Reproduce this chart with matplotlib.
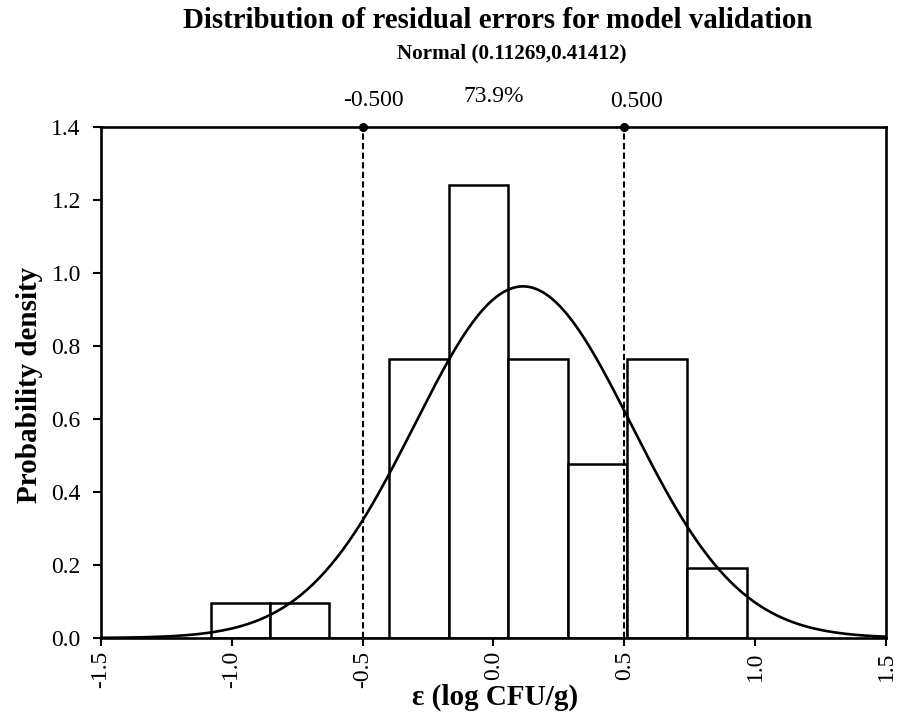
import numpy as np
import matplotlib.pyplot as plt

# histogram of residuals (density scale)
bin_edges = [-1.081, -0.854, -0.627, -0.400, -0.170, 0.056, 0.283, 0.510, 0.738, 0.967]
densities = [0.096, 0.096, 0.0, 0.764, 1.242, 0.764, 0.478, 0.764, 0.191]

# fitted normal
mu, sigma = 0.11269, 0.41412
limits = [-0.5, 0.5]
inside_pct = "73.9%"

xticks = [-1.5, -1.0, -0.5, 0.0, 0.5, 1.0, 1.5]
yticks = [0.0, 0.2, 0.4, 0.6, 0.8, 1.0, 1.2, 1.4]

plt.rcParams['font.family'] = ['Liberation Serif', 'DejaVu Serif']

fig = plt.figure(figsize=(9.04, 7.12), dpi=100)
ax = fig.add_axes([101/904, 1-638/712, (886-101)/904, (638-127)/712])

lefts = np.array(bin_edges[:-1])
widths = np.diff(bin_edges)
ax.bar(lefts, densities, width=widths, align='edge', facecolor='white',
       edgecolor='black', linewidth=1.8, zorder=2)

xs = np.linspace(-1.5, 1.5, 400)
pdf = np.exp(-0.5*((xs-mu)/sigma)**2)/(sigma*np.sqrt(2*np.pi))
ax.plot(xs, pdf, color='black', lw=1.9, zorder=3)

for xv in limits:
    ax.plot([xv, xv], [0, 1.4], color='black', lw=1.5, ls=(0, (3, 1.6)), zorder=4)
    ax.plot([xv], [1.4], 'o', color='black', ms=5.5, zorder=5, clip_on=False)

ax.set_xlim(-1.5, 1.5)
ax.set_ylim(0, 1.4)
ax.set_xticks(xticks)
ax.set_xticklabels(['%.1f' % v for v in xticks], rotation=90)
ax.set_yticks(yticks)
ax.set_yticklabels(['%.1f' % v for v in yticks])
ax.tick_params(direction='out', width=1.5, labelsize=17)
ax.tick_params(axis='x', length=5.5, pad=4)
ax.tick_params(axis='y', length=6, pad=8.5)
for sp in ax.spines.values():
    sp.set_linewidth(1.9)

# labels above the frame
ax.text(limits[0] + 0.04, 1.445, '%.3f' % limits[0], ha='center', va='bottom', fontsize=17)
ax.text(limits[1] + 0.045, 1.44, '%.3f' % limits[1], ha='center', va='bottom', fontsize=17)
ax.text(0.0, 1.455, inside_pct, ha='center', va='bottom', fontsize=17)

fig.text(498/904, 1-28/712, 'Distribution of residual errors for model validation',
         ha='center', va='baseline', fontsize=20.8, fontweight='bold')
fig.text(512/904, 1-58/712, 'Normal (%.5f,%.5f)' % (mu, sigma),
         ha='center', va='baseline', fontsize=15.2, fontweight='bold')
fig.text(30/904, 1-385/712, 'Probability density', rotation=90,
         ha='center', va='center', fontsize=21, fontweight='bold')
fig.text(495/904, 1-705/712, 'ε (log CFU/g)',
         ha='center', va='baseline', fontsize=21, fontweight='bold')

fig.savefig('out.png', dpi=100)
